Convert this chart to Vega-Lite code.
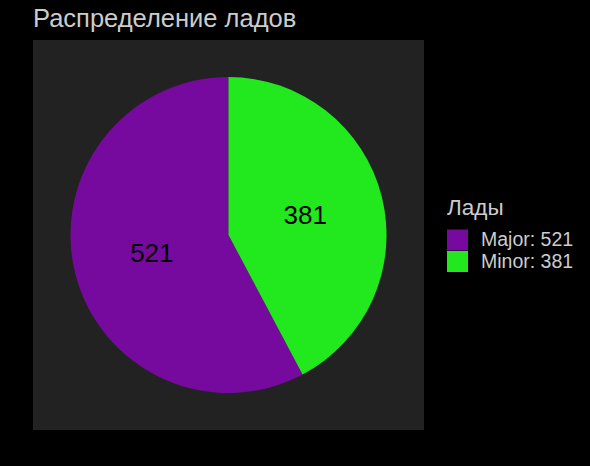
{
  "$schema": "https://vega.github.io/schema/vega-lite/v6.json",
  "width": 391,
  "height": 390,
  "autosize": {"type": "none"},
  "padding": {"left": 33, "top": 40, "right": 166, "bottom": 36},
  "background": "#000000",
  "title": {
    "text": "Распределение ладов",
    "anchor": "start",
    "frame": "group",
    "font": "Liberation Sans",
    "fontSize": 25.5,
    "fontWeight": "normal",
    "color": "#CCCCCC",
    "offset": 8
  },
  "config": {
    "view": {"stroke": null}
  },
  "data": {
    "values": [
      {"mode": "Major", "count": 521, "label": "Major: 521"},
      {"mode": "Minor", "count": 381, "label": "Minor: 381"}
    ]
  },
  "layer": [
    {
      "mark": {"type": "rect", "color": "#222222"},
      "encoding": {}
    },
    {
      "mark": {"type": "arc", "outerRadius": 158},
      "encoding": {
        "theta": {"field": "count", "type": "quantitative", "stack": true},
        "order": {"field": "mode", "sort": "descending"},
        "color": {
          "field": "label",
          "type": "nominal",
          "scale": {"domain": ["Major: 521", "Minor: 381"], "range": ["#760A9E", "#22E81E"]},
          "legend": {
            "title": "Лады",
            "orient": "none",
            "legendX": 414,
            "legendY": 157,
            "titleFont": "Liberation Sans",
            "titleFontSize": 22.5,
            "titleFontWeight": "normal",
            "titleColor": "#CCCCCC",
            "titlePadding": 10,
            "labelFont": "Liberation Sans",
            "labelFontSize": 19.5,
            "labelColor": "#CCCCCC",
            "labelOffset": 13,
            "symbolType": "square",
            "symbolSize": 441,
            "symbolStrokeWidth": 0,
            "symbolOpacity": 1,
            "rowPadding": 0.5
          }
        }
      }
    },
    {
      "mark": {"type": "text", "radius": 79, "font": "Liberation Sans", "fontSize": 26, "color": "#000000"},
      "encoding": {
        "theta": {"field": "count", "type": "quantitative", "stack": true},
        "order": {"field": "mode", "sort": "descending"},
        "text": {"field": "count", "type": "quantitative"}
      }
    }
  ]
}
